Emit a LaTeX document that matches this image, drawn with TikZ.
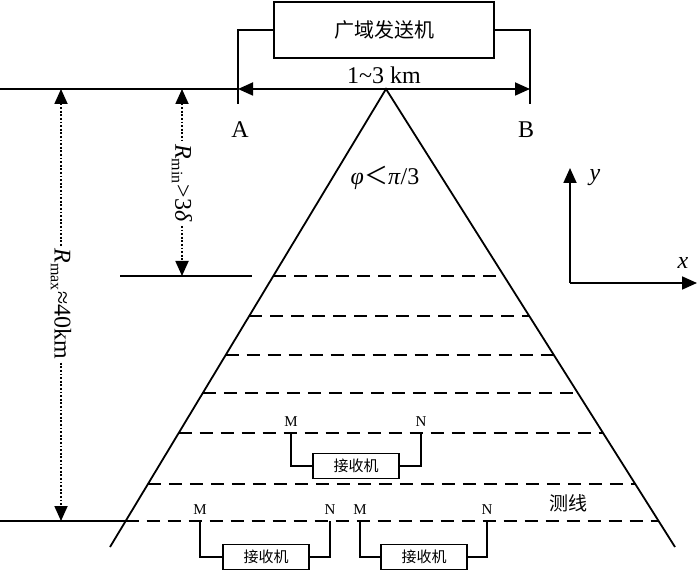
\documentclass[tikz,border=0pt]{standalone}
\usepackage{fontspec}
\setmainfont{Liberation Serif}
\newfontfamily\cjk{Noto Sans CJK SC}
\usetikzlibrary{arrows.meta,positioning,calc}

\begin{document}
\begin{tikzpicture}[x=0.5pt,y=-0.5pt,line width=0.9pt,
  tip/.style={-{Triangle[length=7.5pt,width=6.5pt]}},
  tips/.style={{Triangle[length=7.5pt,width=6.5pt]}-{Triangle[length=7.5pt,width=6.5pt]}},
  survey/.style={dash pattern=on 6.5pt off 4pt},
  dimline/.style={tips,dash pattern=on 0.9pt off 0.9pt,line width=0.9pt},
  sendbox/.style={draw,minimum width=110pt,minimum height=28pt,inner sep=0pt,font=\cjk\fontsize{10}{12}\selectfont},
  recvbox/.style={draw,fill=white,minimum width=43pt,minimum height=12.5pt,inner sep=0pt,font=\cjk\fontsize{7.5}{9}\selectfont},
  lbl/.style={inner sep=1pt,font=\fontsize{12}{14}\selectfont},
  pin/.style={inner sep=1pt,font=\fontsize{7.5}{9}\selectfont}]
\useasboundingbox (0,0) rectangle (700,571);

\coordinate (apex) at (386,89);
\coordinate (lf) at (110,547);
\coordinate (rf) at (675,547);
\draw (lf)--(apex)--(rf);

% transmitter and AB
\node[sendbox] (tx) at (384,30) {广域发送机};
\coordinate (A) at (238,104);
\coordinate (B) at (530,104);
\coordinate (A0) at (238,89);
\coordinate (B0) at (530,89);
\draw (tx.west) -| (A);
\draw (tx.east) -| (B);
\draw[tips] (A0)--node[lbl,above=1pt] (span) {1\textasciitilde3 km} (B0);
\node[lbl] (labA) at (240,130) {A};
\node[lbl] (labB) at (526,130) {B};
\node[lbl] (phi) at (385,178) {\textit{φ}{\cjk ＜}\textit{π}/3};

% survey lines
\foreach \yy/\nm in {276/1,316/2,355/3,393/4,433/5,484/6,521/7}{
  \pgfmathsetmacro\t{(\yy-89)/458}
  \coordinate (l\nm) at ($(apex)!\t!(lf)$);
  \coordinate (r\nm) at ($(apex)!\t!(rf)$);
  \draw[survey] (l\nm)--(r\nm);
}

% ground lines and distances
\coordinate (g0) at (0,89);
\coordinate (g1) at (0,521);
\draw (g0)--(A0);
\draw (g1)--(l7);
\coordinate (h0) at (120,276);
\coordinate (h1) at (252,276);
\draw (h0)--(h1);
\coordinate (rmaxT) at (61,89);
\coordinate (rmaxB) at (61,521);
\coordinate (rminT) at (182,89);
\coordinate (rminB) at (182,276);
\draw[dimline] (rmaxT)--(rmaxB);
\draw[dimline] (rminT)--(rminB);
\node[lbl,rotate=-90,fill=white] (rmax) at (61,304) {\textit{R}\textsubscript{max}≈40km};
\node[lbl,rotate=-90,fill=white] (rmin) at (182,183) {\textit{R}\textsubscript{min}>3\textit{δ}};

% receivers
\coordinate (M1) at (291,433);
\coordinate (N1) at (421,433);
\coordinate (M2) at (200,521);
\coordinate (N2) at (330,521);
\coordinate (M3) at (360,521);
\coordinate (N3) at (487,521);
\node[recvbox] (rx1) at (356,466) {接收机};
\node[recvbox] (rx2) at (266,557) {接收机};
\node[recvbox] (rx3) at (424,557) {接收机};
\foreach \i in {1,2,3}{
  \draw (M\i) |- (rx\i.west);
  \draw (N\i) |- (rx\i.east);
  \node[pin,above=2pt of M\i] (m\i) {M};
  \node[pin,above=2pt of N\i] (n\i) {N};
}
\node[font=\cjk\fontsize{9.5}{11}\selectfont] (line) at (568,503) {测线};

% axes
\coordinate (o) at (570,283);
\coordinate (yend) at (570,168);
\coordinate (xend) at (697,283);
\draw[tip] (o)--(yend);
\draw[tip] (o)--(xend);
\node[lbl] (ylab) at (595,178) {\textit{y}};
\node[lbl] (xlab) at (683,263) {\textit{x}};

\end{tikzpicture}
\end{document}
